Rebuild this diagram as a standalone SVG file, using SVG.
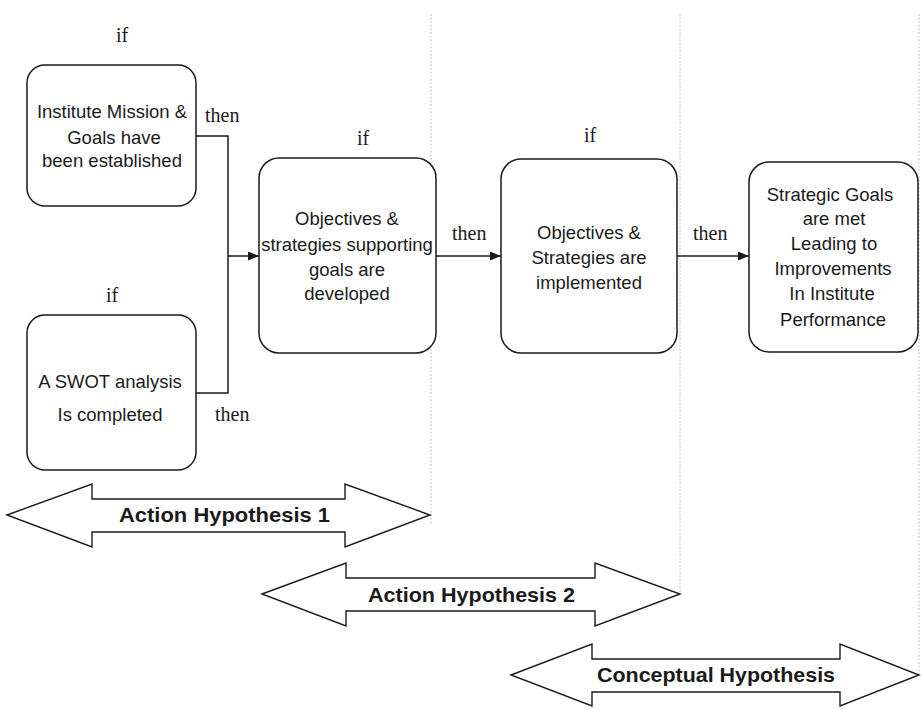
<svg xmlns="http://www.w3.org/2000/svg" width="921" height="709" viewBox="0 0 921 709">
<defs>
<style>
.box{fill:#fff;stroke:#1a1a1a;stroke-width:1.5}
.bt{font-family:"Liberation Sans",Arial,sans-serif;font-size:18.5px;fill:#1a1a1a;text-anchor:middle}
.lbl{font-family:"Liberation Serif","Times New Roman",serif;font-size:20px;fill:#1a1a1a}
.mid{text-anchor:middle}
.conn{fill:none;stroke:#1a1a1a;stroke-width:1.5}
.dot{stroke:#c4c4c4;stroke-width:1;stroke-dasharray:2 1.6}
.harr{fill:#fff;stroke:#1a1a1a;stroke-width:1.4;stroke-linejoin:miter}
.ht{font-family:"Liberation Sans",Arial,sans-serif;font-size:20.5px;font-weight:bold;fill:#1a1a1a;text-anchor:middle}
</style>
<marker id="ah" markerWidth="11" markerHeight="9" refX="11" refY="4.5" orient="auto" markerUnits="userSpaceOnUse">
<path d="M0,0 L11,4.5 L0,9 Z" fill="#1a1a1a"/>
</marker>
</defs>
<rect width="921" height="709" fill="#fff"/>
<g id="guides">
<line class="dot" x1="431" y1="14" x2="431" y2="525"/>
<line class="dot" x1="680" y1="14" x2="680" y2="595"/>
<line class="dot" x1="919" y1="14" x2="919" y2="675"/>
</g>
<g id="connectors">
<polyline class="conn" points="196,136 228,136 228,256"/>
<polyline class="conn" points="196,393 228,393 228,256"/>
<line class="conn" x1="228" y1="256" x2="259" y2="256" marker-end="url(#ah)"/>
<line class="conn" x1="436" y1="256" x2="501" y2="256" marker-end="url(#ah)"/>
<line class="conn" x1="677" y1="256" x2="749" y2="256" marker-end="url(#ah)"/>
<text class="lbl" x="205" y="122">then</text>
<text class="lbl" x="215" y="421">then</text>
<text class="lbl" x="452" y="240">then</text>
<text class="lbl" x="693" y="240">then</text>
</g>
<g id="n1">
<text class="lbl mid" x="122" y="42">if</text>
<rect class="box" x="27" y="65" width="169" height="141" rx="18"/>
<text class="bt" x="112" y="118">Institute Mission &amp;</text>
<text class="bt" x="114" y="144">Goals have</text>
<text class="bt" x="112" y="167">been established</text>
</g>
<g id="n2">
<text class="lbl mid" x="112" y="302">if</text>
<rect class="box" x="27" y="315" width="169" height="155" rx="18"/>
<text class="bt" x="110" y="388">A SWOT analysis</text>
<text class="bt" x="110" y="421">Is completed</text>
</g>
<g id="n3">
<text class="lbl mid" x="363" y="145">if</text>
<rect class="box" x="259" y="158" width="177" height="195" rx="20"/>
<text class="bt" x="347" y="225">Objectives &amp;</text>
<text class="bt" x="347" y="251">strategies supporting</text>
<text class="bt" x="347" y="276">goals are</text>
<text class="bt" x="347" y="300">developed</text>
</g>
<g id="n4">
<text class="lbl mid" x="590" y="142">if</text>
<rect class="box" x="501" y="159" width="176" height="194" rx="20"/>
<text class="bt" x="589" y="239">Objectives &amp;</text>
<text class="bt" x="589" y="264">Strategies are</text>
<text class="bt" x="589" y="289">implemented</text>
</g>
<g id="n5">
<rect class="box" x="749" y="162" width="169" height="190" rx="20"/>
<text class="bt" x="830" y="201">Strategic Goals</text>
<text class="bt" x="834" y="225">are met</text>
<text class="bt" x="834" y="250">Leading to</text>
<text class="bt" x="833" y="275">Improvements</text>
<text class="bt" x="832" y="300">In Institute</text>
<text class="bt" x="833" y="326">Performance</text>
</g>
<g id="h1">
<path class="harr" d="M7,515 L92,484 L92,499 L345,499 L345,484 L430,515 L345,547 L345,532 L92,532 L92,547 Z"/>
<text class="ht" x="224.5" y="522" textLength="211" lengthAdjust="spacingAndGlyphs">Action Hypothesis 1</text>
</g>
<g id="h2">
<path class="harr" d="M262,594 L346,563 L346,578 L595,578 L595,563 L680,594 L595,626 L595,611 L346,611 L346,626 Z"/>
<text class="ht" x="471.5" y="602" textLength="207" lengthAdjust="spacingAndGlyphs">Action Hypothesis 2</text>
</g>
<g id="h3">
<path class="harr" d="M511,675 L592,644 L592,659 L840,659 L840,644 L919,675 L840,706 L840,692 L592,692 L592,706 Z"/>
<text class="ht" x="716" y="682" textLength="238" lengthAdjust="spacingAndGlyphs">Conceptual Hypothesis</text>
</g>
</svg>
